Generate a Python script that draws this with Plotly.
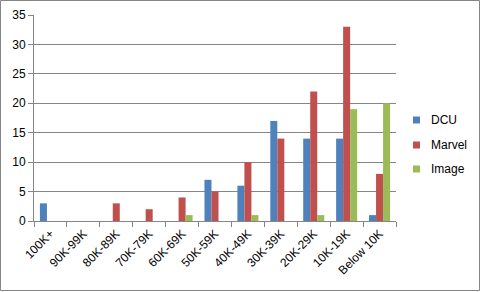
import plotly.graph_objects as go

categories = ["100K+", "90K-99K", "80K-89K", "70K-79K", "60K-69K", "50K-59K",
              "40K-49K", "30K-39K", "20K-29K", "10K-19K", "Below 10K"]
dcu = [3, 0, 0, 0, 0, 7, 6, 17, 14, 14, 1]
marvel = [0, 0, 3, 2, 4, 5, 10, 14, 22, 33, 8]
image = [0, 0, 0, 0, 1, 0, 1, 0, 1, 19, 20]
y_ticks = [0, 5, 10, 15, 20, 25, 30, 35]

W, H = 481, 292
L, R, T, B = 34, 85, 15, 71
pw, ph = W - L - R, H - T - B

font = dict(family="Liberation Sans", size=12, color="#000000")

def px(xp):
    return (xp - L) / pw

def py(yp):
    return 1 - (yp - T) / ph

fig = go.Figure()
series = [("DCU", dcu, "#4F81BD"),
          ("Marvel", marvel, "#C0504D"),
          ("Image", image, "#9BBB59")]
for name, vals, col in series:
    fig.add_trace(go.Bar(x=categories, y=vals, name=name, marker_color=col,
                         marker_line_width=0, showlegend=False))

shapes = [dict(type="rect", xref="paper", yref="paper",
               x0=px(0.5), x1=px(W - 1.5), y0=py(H - 1.5), y1=py(0.5),
               line=dict(color="#868686", width=1))]
annotations = []
leg_y = [120, 145, 169]
for (name, vals, col), yc in zip(series, leg_y):
    shapes.append(dict(type="rect", xref="paper", yref="paper",
                       x0=px(413), x1=px(420), y0=py(yc + 3.5), y1=py(yc - 3.5),
                       fillcolor=col, line=dict(width=0)))
    annotations.append(dict(xref="paper", yref="paper", x=px(429), y=py(yc),
                            xanchor="left", yanchor="middle", text=name,
                            showarrow=False, font=font))

fig.update_layout(
    width=W, height=H,
    margin=dict(l=L, r=R, t=T, b=B),
    paper_bgcolor="white", plot_bgcolor="white",
    barmode="group", bargap=0.36, bargroupgap=0,
    font=font,
    showlegend=False,
    xaxis=dict(type="category", tickangle=-45, ticks="outside", tickson="boundaries",
               ticklen=5, tickcolor="#868686", showline=True, linecolor="#868686",
               linewidth=1, showgrid=False, tickfont=font, automargin=False),
    yaxis=dict(range=[0, 35], tickvals=y_ticks, ticks="outside", ticklen=5,
               tickcolor="#868686", showline=True, linecolor="#868686", linewidth=1,
               showgrid=True, gridcolor="#868686", gridwidth=1, zeroline=False,
               tickfont=font, automargin=False),
    shapes=shapes,
    annotations=annotations,
)

fig.write_html("out.html")
